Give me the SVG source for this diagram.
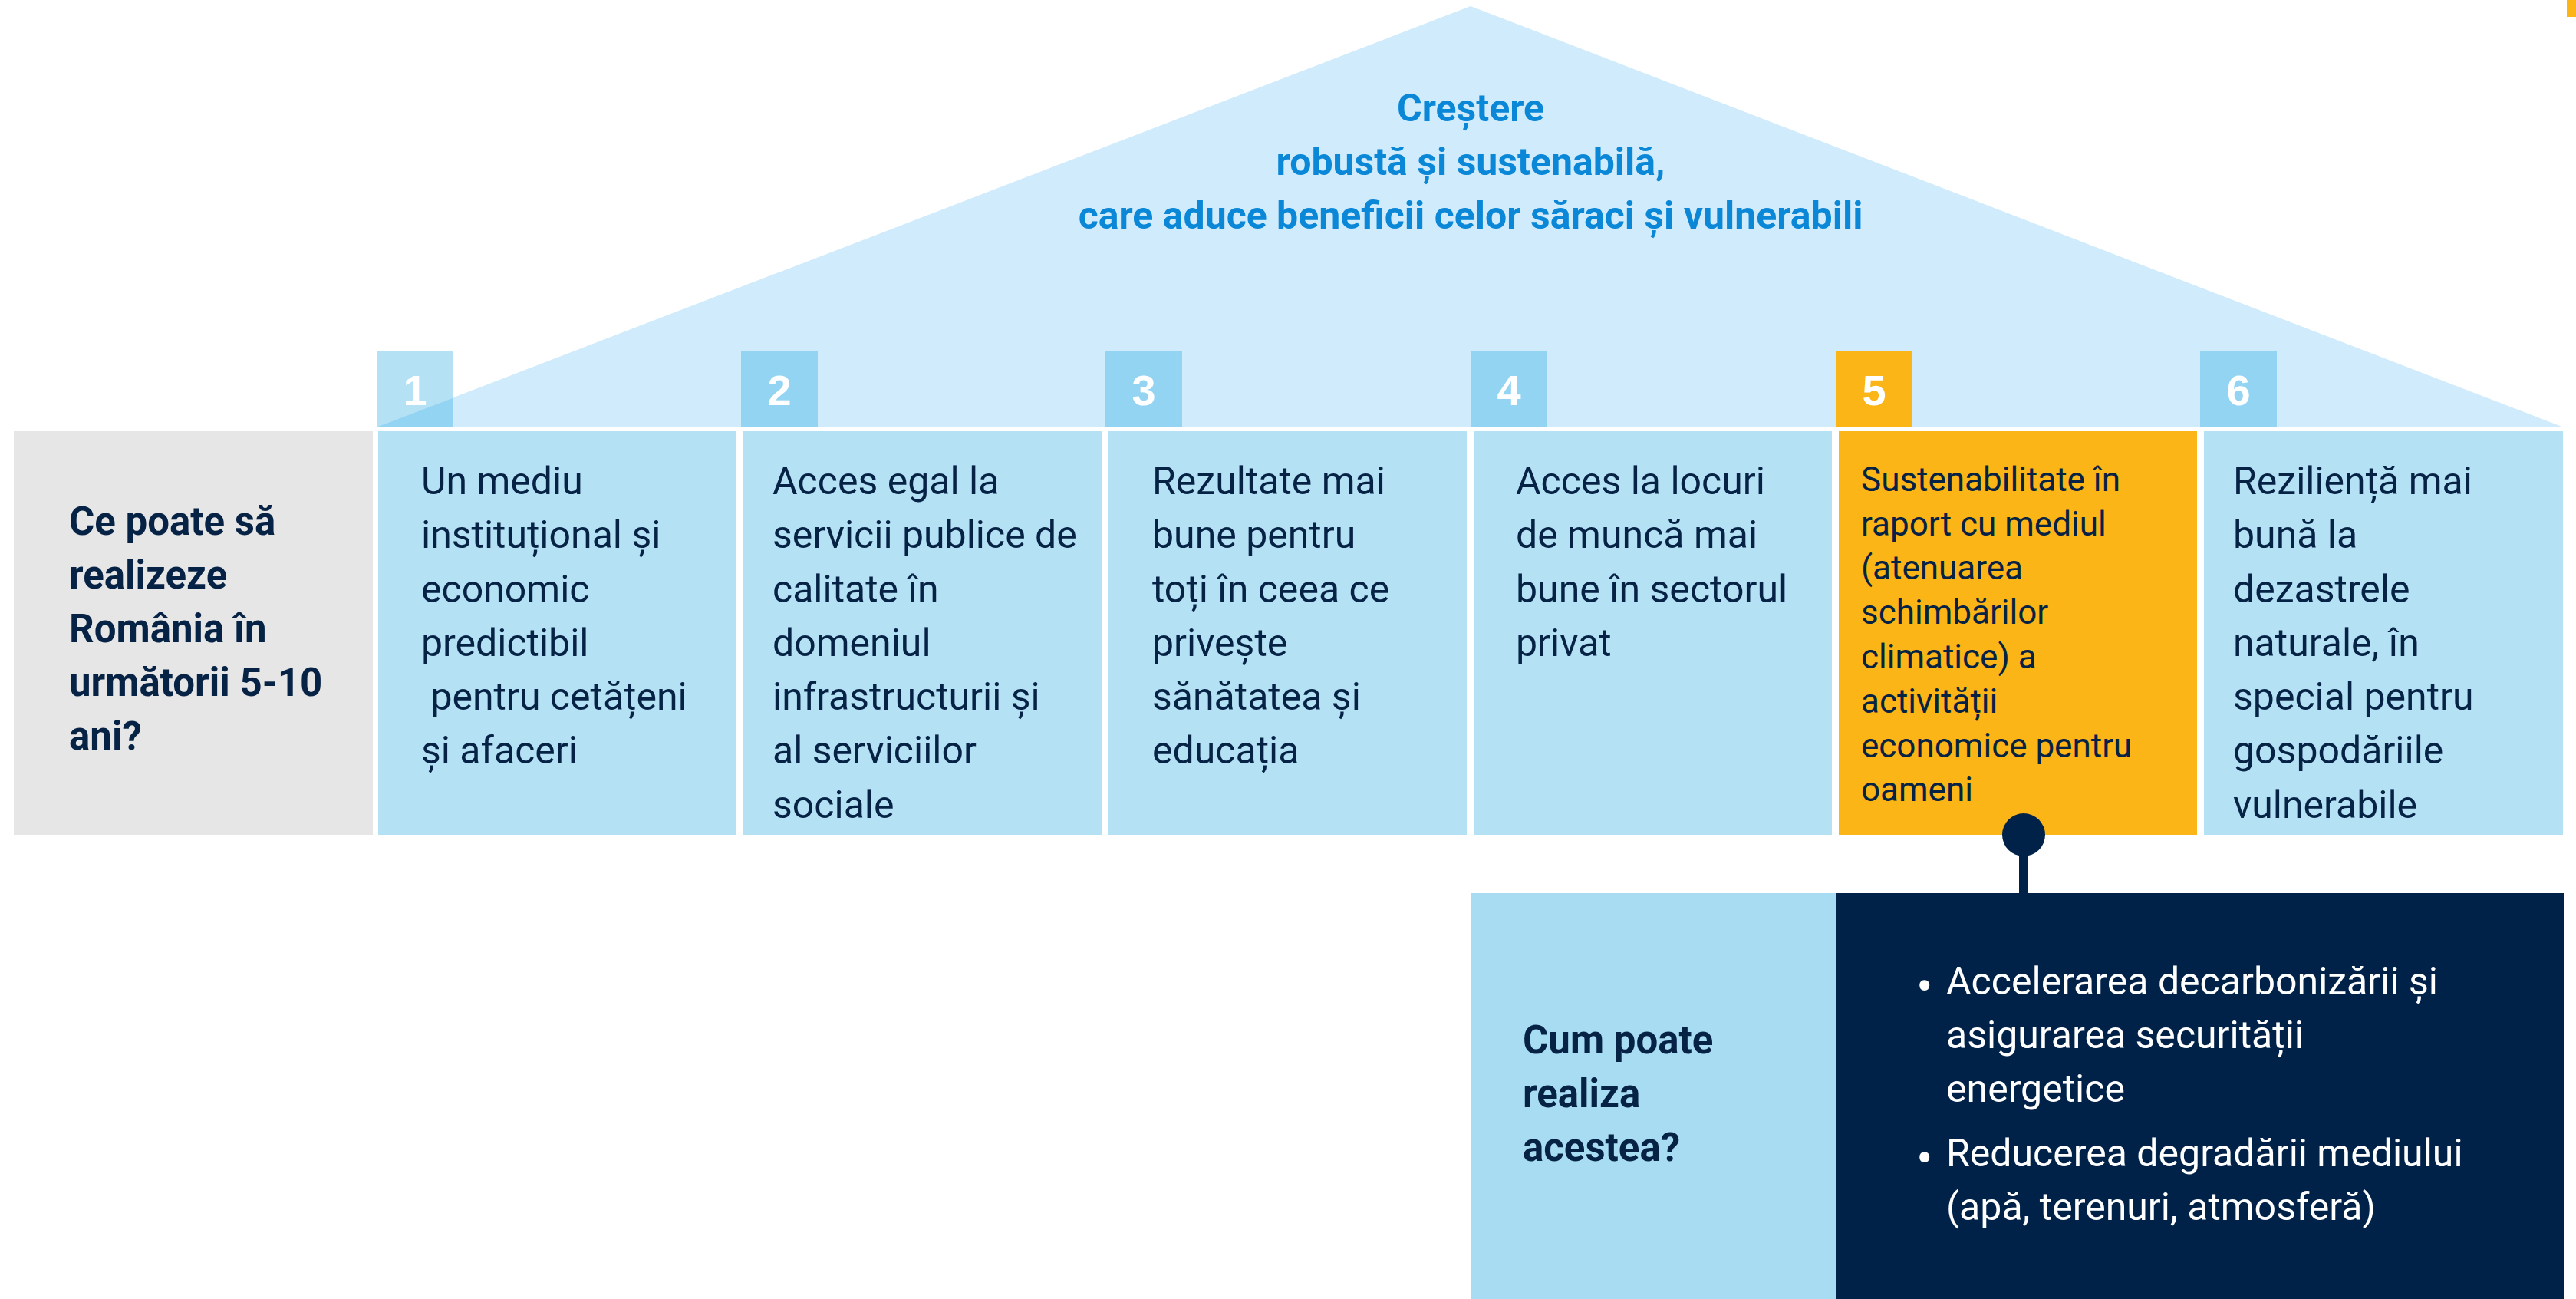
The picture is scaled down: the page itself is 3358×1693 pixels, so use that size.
<svg xmlns="http://www.w3.org/2000/svg" width="3358" height="1693" viewBox="0 0 3358 1693">
<style>
.t{font-family:Roboto,"Noto Sans",sans-serif;font-size:50px;fill:#062245}
.t5{font-family:Roboto,"Noto Sans",sans-serif;font-size:44px;fill:#062245}
.b{font-family:Roboto,"Noto Sans",sans-serif;font-size:51px;font-weight:bold;fill:#062245}
.title{font-family:Roboto,"Noto Sans",sans-serif;font-size:50px;font-weight:bold;fill:#0A87D7;text-anchor:middle}
.num{font-family:"Liberation Sans",Arial,sans-serif;font-size:56px;font-weight:bold;fill:#ffffff;text-anchor:middle}
.w{font-family:Roboto,"Noto Sans",sans-serif;font-size:50px;fill:#ffffff}
.bul{font-family:Roboto,"Noto Sans",sans-serif;font-size:64px;fill:#ffffff}
.cell{fill:#B5E1F4}
.nb{fill:#93D4F3}
</style>
<rect width="3358" height="1693" fill="#ffffff"/>
<rect x="3346" y="0" width="12" height="22" fill="#FBB516"/>

<g id="roof">
<polygon points="1917,8 3342,557 490,557" fill="#D0EBFB"/>
<text class="title" x="1917" y="158">Creștere</text>
<text class="title" x="1917" y="228">robustă și sustenabilă,</text>
<text class="title" x="1917" y="298">care aduce beneficii celor săraci și vulnerabili</text>
</g>

<g id="numbers">
<rect x="491" y="457" width="100" height="100" fill="#B5E1F4"/>
<polygon points="490,557 591,557 591,518.5" fill="#93D4F3"/>
<text class="num" x="541" y="528">1</text>
<rect class="nb" x="966" y="457" width="100" height="100"/>
<text class="num" x="1016" y="528">2</text>
<rect class="nb" x="1441" y="457" width="100" height="100"/>
<text class="num" x="1491" y="528">3</text>
<rect class="nb" x="1917" y="457" width="100" height="100"/>
<text class="num" x="1967" y="528">4</text>
<rect x="2393" y="457" width="100" height="100" fill="#FBB516"/>
<text class="num" x="2443" y="528">5</text>
<rect class="nb" x="2868" y="457" width="100" height="100"/>
<text class="num" x="2918" y="528">6</text>
</g>

<g id="question">
<rect x="18" y="562" width="468" height="526" fill="#E6E6E6"/>
<text class="b" x="90" y="697">Ce poate să</text>
<text class="b" x="90" y="767">realizeze</text>
<text class="b" x="90" y="837">România în</text>
<text class="b" x="90" y="907">următorii 5-10</text>
<text class="b" x="90" y="977">ani?</text>
</g>

<g id="cell1">
<rect class="cell" x="493" y="562" width="467" height="526"/>
<text class="t" x="549" y="644">Un mediu</text>
<text class="t" x="549" y="714">instituțional și</text>
<text class="t" x="549" y="785">economic</text>
<text class="t" x="549" y="855">predictibil</text>
<text class="t" x="549" y="925" xml:space="preserve"> pentru cetățeni</text>
<text class="t" x="549" y="995">și afaceri</text>
</g>

<g id="cell2">
<rect class="cell" x="969" y="562" width="467" height="526"/>
<text class="t" x="1007" y="644">Acces egal la</text>
<text class="t" x="1007" y="714">servicii publice de</text>
<text class="t" x="1007" y="785">calitate în</text>
<text class="t" x="1007" y="855">domeniul</text>
<text class="t" x="1007" y="925">infrastructurii și</text>
<text class="t" x="1007" y="995">al serviciilor</text>
<text class="t" x="1007" y="1066">sociale</text>
</g>

<g id="cell3">
<rect class="cell" x="1445" y="562" width="467" height="526"/>
<text class="t" x="1502" y="644">Rezultate mai</text>
<text class="t" x="1502" y="714">bune pentru</text>
<text class="t" x="1502" y="785">toți în ceea ce</text>
<text class="t" x="1502" y="855">privește</text>
<text class="t" x="1502" y="925">sănătatea și</text>
<text class="t" x="1502" y="995">educația</text>
</g>

<g id="cell4">
<rect class="cell" x="1921" y="562" width="467" height="526"/>
<text class="t" x="1976" y="644">Acces la locuri</text>
<text class="t" x="1976" y="714">de muncă mai</text>
<text class="t" x="1976" y="785">bune în sectorul</text>
<text class="t" x="1976" y="855">privat</text>
</g>

<g id="cell5">
<rect x="2397" y="562" width="467" height="526" fill="#FBB516"/>
<text class="t5" x="2426" y="640">Sustenabilitate în</text>
<text class="t5" x="2426" y="698">raport cu mediul</text>
<text class="t5" x="2426" y="755">(atenuarea</text>
<text class="t5" x="2426" y="813">schimbărilor</text>
<text class="t5" x="2426" y="871">climatice) a</text>
<text class="t5" x="2426" y="929">activității</text>
<text class="t5" x="2426" y="987">economice pentru</text>
<text class="t5" x="2426" y="1044">oameni</text>
</g>

<g id="cell6">
<rect class="cell" x="2873" y="562" width="468" height="526"/>
<text class="t" x="2911" y="644">Reziliență mai</text>
<text class="t" x="2911" y="714">bună la</text>
<text class="t" x="2911" y="785">dezastrele</text>
<text class="t" x="2911" y="855">naturale, în</text>
<text class="t" x="2911" y="925">special pentru</text>
<text class="t" x="2911" y="995">gospodăriile</text>
<text class="t" x="2911" y="1066">vulnerabile</text>
</g>

<g id="how">
<rect x="1918" y="1164" width="476" height="529" fill="#A8DCF2"/>
<text class="b" x="1985" y="1373">Cum poate</text>
<text class="b" x="1985" y="1443">realiza</text>
<text class="b" x="1985" y="1513">acestea?</text>
</g>

<g id="actions">
<rect x="2393" y="1164" width="950" height="529" fill="#012248"/>
<text class="bul" x="2498" y="1308">•</text>
<text class="w" x="2537" y="1296">Accelerarea decarbonizării și</text>
<text class="w" x="2537" y="1366">asigurarea securității</text>
<text class="w" x="2537" y="1436">energetice</text>
<text class="bul" x="2498" y="1532">•</text>
<text class="w" x="2537" y="1520">Reducerea degradării mediului</text>
<text class="w" x="2537" y="1590">(apă, terenuri, atmosferă)</text>
</g>

<g id="connectors">
<line x1="2638" y1="1088" x2="2638" y2="1166" stroke="#012248" stroke-width="12"/>
<circle cx="2638" cy="1088" r="28" fill="#012248"/>
</g>
</svg>
